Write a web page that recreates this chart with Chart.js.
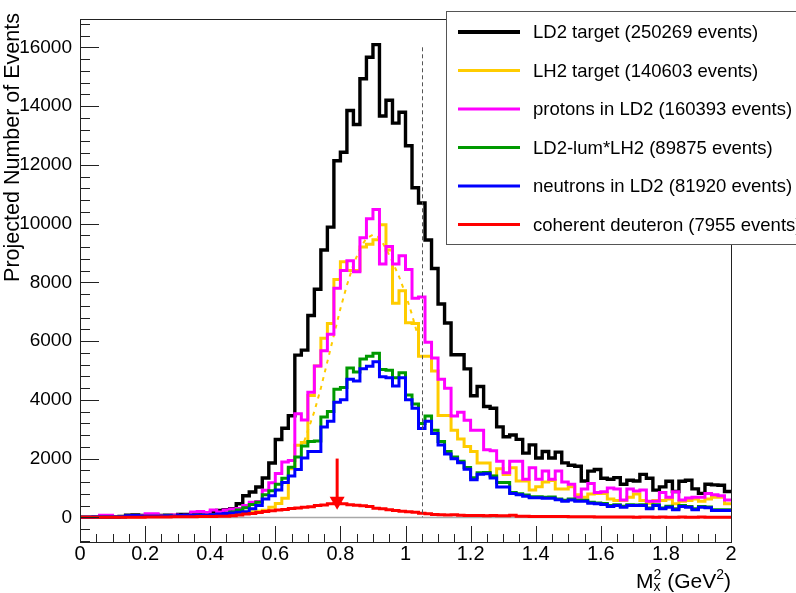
<!DOCTYPE html>
<html lang="en">
<head>
<meta charset="UTF-8">
<title>Projected Number of Events vs Mx2</title>
<script src="https://cdn.jsdelivr.net/npm/chart.js"></script>
<style>
  html, body { margin: 0; padding: 0; background: #fff; }
  canvas { display: block; }
</style>
</head>
<body>
<canvas id="mxChart" width="796" height="593"></canvas>
<script>
// 100 bins of 0.02 GeV^2 between 0 and 2
const binWidth = 0.02;

const ld2 = [0, 0, 10, 20, 20, 20, 30, 70, 80, 60,
  60, 70, 60, 70, 60, 100, 100, 130, 150, 130,
  170, 230, 260, 290, 460, 736, 860, 1030, 1340, 1850,
  2650, 3030, 3460, 5520, 5690, 6870, 7765, 9100, 9880, 12140,
  12430, 13850, 13370, 14930, 15660, 16090, 13660, 14200, 13420, 13790,
  12650, 11220, 10700, 9440, 8470, 7263, 6616, 5533, 5533, 5054,
  4140, 4451, 3771, 3715, 3079, 2745, 2800, 2655, 2187, 2466,
  2020, 2243, 2020, 2220, 1852, 1774, 1740, 1238, 1573, 1629,
  1328, 1295, 1350, 1127, 1260, 1238, 1462, 1328, 926, 1037,
  1227, 881, 1227, 1260, 970, 814, 1127, 1104, 1093, 881];

const lh2 = [0, 0, 0, 10, 10, 10, 10, 20, 20, 20,
  30, 30, 30, 40, 40, 50, 50, 60, 70, 70,
  80, 90, 110, 130, 150, 170, 190, 210, 240, 340,
  470, 650, 1650, 2450, 2550, 4150, 5150, 6100, 6600, 8100,
  8700, 8400, 8400, 9200, 9300, 9450, 9960, 9100, 7290, 7710,
  6620, 6600, 5480, 5480, 4977, 3470, 3470, 2968, 2667, 2410,
  2243, 1852, 1852, 1406, 1651, 1462, 1685, 1238, 1238, 926,
  1037, 1205, 1250, 960, 960, 1037, 770, 680, 792, 814,
  814, 625, 570, 570, 680, 792, 570, 480, 570, 570,
  625, 458, 547, 570, 625, 547, 625, 680, 680, 458];

const protons = [0, 10, 20, 70, 70, 20, 20, 40, 50, 50,
  120, 120, 50, 60, 80, 60, 70, 180, 200, 160,
  250, 180, 250, 280, 300, 400, 513, 540, 920, 1180,
  1490, 1885, 1931, 3525, 3310, 4260, 5150, 5670, 6236, 7799,
  8401, 8736, 8357, 9516, 10165, 10476, 8625, 9215, 8625, 8903,
  8434, 7454, 7500, 5960, 5422, 4696, 4395, 3447, 3581, 3302,
  2968, 2968, 2299, 2265, 1908, 1517, 1908, 1908, 1300, 1685,
  1300, 1573, 1300, 1573, 1205, 1127, 680, 960, 1150, 847,
  870, 1000, 960, 592, 960, 900, 926, 547, 547, 847,
  680, 870, 592, 658, 680, 680, 814, 770, 736, 590];

const ld2MinusLh2 = [0, 0, 10, 10, 10, 10, 20, 40, 50, 40,
  40, 40, 40, 50, 40, 60, 60, 70, 80, 70,
  90, 100, 130, 180, 250, 330, 435, 513, 770, 904,
  1127, 1328, 1707, 2050, 2430, 2580, 2600, 3414, 3604, 4362,
  4418, 5087, 4943, 5389, 5479, 5589, 5031, 5010, 4753, 4920,
  4161, 3860, 3190, 3447, 2968, 2577, 2243, 2050, 1908, 1700,
  1350, 1517, 1530, 1406, 1182, 1182, 847, 800, 760, 700,
  700, 680, 690, 620, 580, 620, 580, 580, 510, 490,
  470, 400, 430, 380, 430, 420, 430, 320, 430, 320,
  380, 290, 400, 370, 290, 370, 350, 260, 260, 260];

const neutrons = [0, 0, 10, 10, 10, 10, 20, 50, 60, 40,
  40, 40, 40, 50, 40, 70, 70, 70, 80, 70,
  90, 110, 130, 150, 170, 190, 290, 402, 625, 736,
  926, 1182, 1406, 1629, 2020, 2243, 2243, 3079, 3268, 3916,
  4006, 4696, 4640, 5054, 5144, 5300, 4786, 4753, 4474, 4753,
  4006, 3715, 3023, 3268, 2855, 2466, 2153, 1990, 1860, 1640,
  1280, 1470, 1480, 1340, 1030, 1030, 814, 770, 720, 670,
  670, 650, 650, 600, 550, 590, 550, 550, 480, 458,
  435, 368, 402, 346, 402, 400, 400, 290, 402, 290,
  346, 257, 368, 346, 257, 346, 324, 234, 234, 234];

const coherent = [0, 0, 0, 0, 0, 0, 0, 0, 0, 0,
  10, 10, 10, 10, 20, 20, 20, 20, 30, 30,
  30, 40, 40, 50, 80, 110, 130, 160, 200, 220,
  250, 270, 300, 320, 340, 360, 400, 420, 460, 470,
  460, 430, 410, 390, 370, 310, 290, 260, 230, 210,
  190, 170, 140, 120, 100, 90, 80, 90, 70, 60,
  60, 60, 50, 60, 50, 50, 70, 40, 40, 30,
  30, 30, 30, 30, 30, 20, 20, 20, 20, 10,
  10, 10, 10, 10, 10, 0, 10, 10, 0, 10,
  0, 0, 10, 0, 0, 10, 0, 0, 0, 0];

// dashed fit drawn on the LH2 peak
const fitX = [0.68, 0.70, 0.72, 0.74, 0.76, 0.78, 0.80, 0.82, 0.84, 0.86,
  0.88, 0.90, 0.92, 0.94, 0.96, 0.98, 1.00, 1.02, 1.04];
const fitY = [2300, 2950, 3600, 4400, 5300, 6200, 7100, 7900, 8600, 9150,
  9500, 9620, 9520, 9150, 8700, 8200, 7600, 6900, 6100];

const xTicks = [0, 0.2, 0.4, 0.6, 0.8, 1, 1.2, 1.4, 1.6, 1.8, 2];
const yTicks = [0, 2000, 4000, 6000, 8000, 10000, 12000, 14000, 16000];

// markers
const cutX = 1.05;
const cutTop = 16000;
const arrowX = 0.79;
const arrowTop = 2000;
const arrowTip = 260;

const series = [
  { label: 'LD2 target (250269 events)', data: ld2, color: '#000000', width: 3.4, order: 6 },
  { label: 'LH2 target (140603 events)', data: lh2, color: '#ffcc00', width: 3, order: 5 },
  { label: 'protons in LD2 (160393 events)', data: protons, color: '#ff00ff', width: 3, order: 3 },
  { label: 'LD2-lum*LH2 (89875 events)', data: ld2MinusLh2, color: '#009900', width: 3, order: 2 },
  { label: 'neutrons in LD2 (81920 events)', data: neutrons, color: '#0000ff', width: 3, order: 1 },
  { label: 'coherent deuteron (7955 events)', data: coherent, color: '#ff0000', width: 3, order: 0 }
];

function histPoints(vals) {
  const pts = vals.map((v, i) => ({ x: i * binWidth, y: v }));
  pts.push({ x: vals.length * binWidth, y: vals[vals.length - 1] });
  return pts;
}

const datasets = series.map(s => ({
  label: s.label,
  data: histPoints(s.data),
  borderColor: s.color,
  borderWidth: s.width,
  stepped: true,
  fill: false,
  pointRadius: 0,
  order: s.order
}));

datasets.push({
  label: 'LH2 fit',
  data: fitX.map((x, i) => ({ x: x, y: fitY[i] })),
  borderColor: '#ffcc00',
  borderWidth: 2,
  borderDash: [4, 5],
  fill: false,
  pointRadius: 0,
  order: 4
});

const FONT = '"Liberation Sans", Arial, Helvetica, sans-serif';
const NARROW = '"Liberation Sans Narrow", "Arial Narrow", "Liberation Sans", sans-serif';

const rootFrame = {
  id: 'rootFrame',
  beforeDatasetsDraw(chart) {
    const { ctx, chartArea: a, scales: { y } } = chart;
    const y0 = Math.round(y.getPixelForValue(0)) + 0.5;
    ctx.save();
    ctx.strokeStyle = '#a8a8a8';
    ctx.lineWidth = 1.5;
    ctx.beginPath();
    ctx.moveTo(a.left, y0);
    ctx.lineTo(a.right, y0);
    ctx.stroke();
    ctx.restore();
  },
  afterDatasetsDraw(chart) {
    const { ctx, chartArea: a, scales: { x, y } } = chart;
    ctx.save();

    // dashed cut line
    const cx = Math.round(x.getPixelForValue(cutX)) + 0.5;
    ctx.strokeStyle = '#555';
    ctx.lineWidth = 1;
    ctx.setLineDash([4, 3]);
    ctx.beginPath();
    ctx.moveTo(cx, y.getPixelForValue(cutTop));
    ctx.lineTo(cx, y.getPixelForValue(0));
    ctx.stroke();
    ctx.setLineDash([]);

    // red arrow
    const ax = x.getPixelForValue(arrowX);
    const aTop = y.getPixelForValue(arrowTop);
    const aTip = y.getPixelForValue(arrowTip);
    ctx.strokeStyle = '#ff0000';
    ctx.fillStyle = '#ff0000';
    ctx.lineWidth = 3;
    ctx.beginPath();
    ctx.moveTo(ax, aTop);
    ctx.lineTo(ax, aTip - 12);
    ctx.stroke();
    ctx.beginPath();
    ctx.moveTo(ax - 7.5, aTip - 13);
    ctx.lineTo(ax + 7.5, aTip - 13);
    ctx.lineTo(ax, aTip);
    ctx.closePath();
    ctx.fill();

    // frame
    ctx.strokeStyle = '#222';
    ctx.lineWidth = 1;
    ctx.strokeRect(Math.round(a.left) + 0.5, Math.round(a.top) + 0.5,
      Math.round(a.right - a.left), Math.round(a.bottom - a.top));

    // ticks inside the frame
    ctx.beginPath();
    for (let i = 0; i <= 40; i++) {
      const v = i * 0.05;
      const px = Math.round(x.getPixelForValue(v)) + 0.5;
      const len = (i % 4 === 0) ? 16 : 8;
      ctx.moveTo(px, a.bottom);
      ctx.lineTo(px, a.bottom - len);
    }
    for (let v = -800; v <= 16800; v += 400) {
      const py = Math.round(y.getPixelForValue(v)) + 0.5;
      const len = (v % 2000 === 0) ? 19 : 10;
      ctx.moveTo(a.left, py);
      ctx.lineTo(a.left + len, py);
    }
    ctx.stroke();

    // legend box
    const lx = 446, ly = 11, lh = 233;
    ctx.fillStyle = '#fff';
    ctx.fillRect(lx, ly, 796 - lx, lh);
    ctx.strokeStyle = '#555';
    ctx.strokeRect(lx + 0.5, ly + 0.5, 796 - lx + 5, lh);
    ctx.font = '18.5px ' + FONT;
    ctx.textBaseline = 'middle';
    ctx.textAlign = 'left';
    series.forEach((s, i) => {
      const yy = 32 + i * 38.5;
      ctx.strokeStyle = s.color;
      ctx.lineWidth = i === 0 ? 4 : 3;
      ctx.beginPath();
      ctx.moveTo(458, yy);
      ctx.lineTo(520, yy);
      ctx.stroke();
      ctx.fillStyle = '#000';
      ctx.fillText(s.label, 533, yy + 1);
    });
    ctx.restore();
  },
  afterDraw(chart) {
    const { ctx, chartArea: a } = chart;
    ctx.save();
    ctx.fillStyle = '#000';
    ctx.textBaseline = 'alphabetic';

    // x title: M_x^2 (GeV^2), right aligned to axis end
    const big = '21px ' + NARROW, small = '14px ' + NARROW;
    ctx.font = big;
    const wM = ctx.measureText('M').width;
    const wMid = ctx.measureText(' (GeV').width;
    const wClose = ctx.measureText(')').width;
    ctx.font = small;
    const w2 = ctx.measureText('2').width;
    const total = wM + w2 + wMid + w2 + wClose;
    let tx = a.right - total;
    const base = 588;
    ctx.font = big;
    ctx.fillText('M', tx, base);
    tx += wM;
    ctx.font = small;
    ctx.fillText('2', tx, base - 9);
    ctx.fillText('x', tx, base + 3);
    tx += w2;
    ctx.font = big;
    ctx.fillText(' (GeV', tx, base);
    tx += wMid;
    ctx.font = small;
    ctx.fillText('2', tx, base - 9);
    tx += w2;
    ctx.font = big;
    ctx.fillText(')', tx, base);

    // y title, right aligned to the top of the axis
    ctx.translate(19, 13);
    ctx.rotate(-Math.PI / 2);
    ctx.textAlign = 'right';
    ctx.font = '21.5px ' + FONT;
    ctx.fillText('Projected Number of Events', 0, 0);
    ctx.restore();
  }
};

const ctx = document.getElementById('mxChart').getContext('2d');
const mxChart = new Chart(ctx, {
  type: 'line',
  data: { datasets: datasets },
  options: {
    responsive: false,
    animation: false,
    events: [],
    layout: { padding: { top: 11, right: 65, bottom: 0, left: 0 } },
    plugins: {
      legend: { display: false },
      tooltip: { enabled: false }
    },
    elements: { line: { tension: 0, borderJoinStyle: 'miter' } },
    scales: {
      x: {
        type: 'linear',
        min: 0,
        max: 2,
        grid: { display: false, drawTicks: false },
        border: { display: false },
        afterBuildTicks: s => { s.ticks = xTicks.map(v => ({ value: v })); },
        afterFit: s => { s.height = 51; },
        ticks: {
          autoSkip: false,
          maxRotation: 0,
          padding: 0,
          color: '#000',
          font: { family: NARROW, size: 20 },
          callback: v => String(+v.toFixed(1))
        }
      },
      y: {
        type: 'linear',
        min: -840,
        max: 16950,
        grid: { display: false, drawTicks: false },
        border: { display: false },
        afterBuildTicks: s => { s.ticks = yTicks.map(v => ({ value: v })); },
        afterFit: s => { s.width = 80; },
        ticks: {
          padding: 8,
          color: '#000',
          font: { family: NARROW, size: 19 },
          callback: v => String(v)
        }
      }
    }
  },
  plugins: [rootFrame]
});
</script>
</body>
</html>
